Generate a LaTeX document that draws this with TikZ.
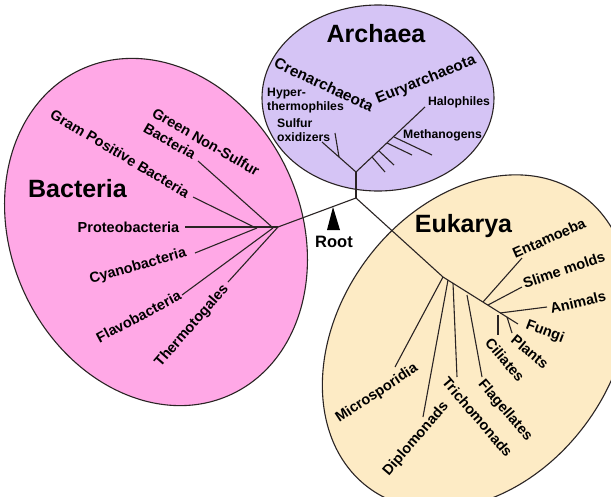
\documentclass[tikz,border=0pt]{standalone}
\usepackage{fontspec}
\setmainfont{Liberation Sans}
\definecolor{pinkfill}{HTML}{FFA8E6}
\definecolor{lavfill}{HTML}{D5C4F5}
\definecolor{yelfill}{HTML}{FDEBC5}
\definecolor{ink}{HTML}{2A2424}
\begin{document}
\begin{tikzpicture}[x=1pt,y=-1pt,
  group/.style={draw=ink, line width=1.1pt},
  br/.style={draw=ink, line width=1.1pt},
  lbl/.style={font=\fontsize{14.5}{17.4}\selectfont\bfseries, inner sep=0pt, text=black},
  sublbl/.style={font=\fontsize{12.2}{14.6}\selectfont\bfseries, inner sep=0pt, align=left, text=black},
  phylum/.style={font=\fontsize{15.3}{18}\selectfont\bfseries, inner sep=0pt, text=black},
  domainlbl/.style={font=\fontsize{25}{30}\selectfont\bfseries, inner sep=0pt, text=black},
]
\useasboundingbox (0,0) rectangle (611,496);
\clip (0,0) rectangle (611,496);
\fill[white] (0,0) rectangle (611,496);

% domain ellipses
\draw[group, fill=pinkfill, rotate around={24.6:(156,232)}] (156,232) ellipse [x radius=145pt, y radius=179pt];
\draw[group, fill=lavfill] (378,98) ellipse [x radius=116pt, y radius=93pt];
\draw[group, fill=yelfill, rotate around={54:(476,342)}] (476,342) ellipse [x radius=181pt, y radius=137pt];

% tree coordinates
\coordinate (C) at (356,198);
\coordinate (A0) at (356,172);
\coordinate (B0) at (278,227);
\coordinate (E1) at (443,277);
\coordinate (E2) at (518,324);

% bacteria
\coordinate (gnsb) at (272,227);  \coordinate (gnse) at (198,161);
\coordinate (gpbb) at (254,227);  \coordinate (gpbe) at (193,197);
\coordinate (proe) at (185,227);
\coordinate (cyab) at (257,228);  \coordinate (cyae) at (195,253);
\coordinate (flab) at (273,228);  \coordinate (flae) at (182,295);
\coordinate (thee) at (228,282);
\draw[br] (C) -- (B0);
\draw[br] (B0) -- (proe);
\draw[br] (gnsb) -- (gnse);
\draw[br] (gpbb) -- (gpbe);
\draw[br] (cyab) -- (cyae);
\draw[br] (flab) -- (flae);
\draw[br] (B0) -- (thee);

% archaea
\coordinate (crene) at (322,142);
\coordinate (crenb) at (339,157);
\coordinate (crens) at (335,133);
\coordinate (halo) at (425,107);
\coordinate (m1b) at (372,157); \coordinate (m1e) at (385,172);
\coordinate (m2b) at (379,151); \coordinate (m2e) at (394,165);
\coordinate (m3b) at (387,143); \coordinate (m3e) at (412,155);
\coordinate (m4b) at (394,137); \coordinate (m4e) at (432,155);
\draw[br] (C) -- (A0);
\draw[br] (A0) -- (crene);
\draw[br] (crenb) -- (crens);
\draw[br] (A0) -- (halo);
\draw[br] (m1b) -- (m1e);
\draw[br] (m2b) -- (m2e);
\draw[br] (m3b) -- (m3e);
\draw[br] (m4b) -- (m4e);

% eukarya
\coordinate (mice) at (395,367);
\coordinate (dipb) at (448,280); \coordinate (dipe) at (423,417);
\coordinate (trib) at (453,283); \coordinate (trie) at (457,377);
\coordinate (flgb) at (467,295); \coordinate (flge) at (482,377);
\coordinate (entb) at (483,302); \coordinate (ente) at (522,258);
\coordinate (slmb) at (488,305); \coordinate (slme) at (522,287);
\coordinate (anib) at (500,313); \coordinate (anie) at (547,307);
\coordinate (cilb) at (498,315); \coordinate (cile) at (498,335);
\coordinate (plab) at (507,317); \coordinate (plae) at (512,333);
\draw[br] (C) -- (E1) -- (E2);
\draw[br] (E1) -- (mice);
\draw[br] (dipb) -- (dipe);
\draw[br] (trib) -- (trie);
\draw[br] (flgb) -- (flge);
\draw[br] (entb) -- (ente);
\draw[br] (slmb) -- (slme);
\draw[br] (anib) -- (anie);
\draw[br] (cilb) -- (cile);
\draw[br] (plab) -- (plae);

% root marker
\fill[black] (333,207) -- (340,230) -- (327,230) -- cycle;
\node[font=\fontsize{16.5}{19}\selectfont\bfseries, inner sep=0pt] (root) at (334,241.5) {Root};

% domain titles
\node[domainlbl] (bact) at (77.5,188.5) {Bacteria};
\node[domainlbl] (arch) at (376,34) {Archaea};
\node[domainlbl] (euk) at (463.5,226) {Eukarya};

% bacteria labels
\node[lbl, align=left, rotate=-30] (gnsl) at (201.7,149.5) {Green Non-Sulfur\\Bacteria};
\node[lbl, rotate=-30.7] (gpbl) at (120,153.5) {Gram Positive Bacteria};
\node[lbl] (prol) at (128.5,227.5) {Proteobacteria};
\node[lbl, rotate=16] (cyal) at (138,266.5) {Cyanobacteria};
\node[lbl, rotate=28] (flal) at (138.5,316.5) {Flavobacteria};
\node[lbl, rotate=49] (thel) at (192,326) {Thermotogales};

% archaea labels
\node[phylum, rotate=-25] (crenl) at (324,84.5) {Crenarchaeota};
\node[phylum, rotate=22] (euryl) at (426,80) {Euryarchaeota};
\node[sublbl, anchor=west] (hyperl) at (267,100.5) {Hyper-\\thermophiles};
\node[sublbl, anchor=west] (sulfl) at (277,130) {Sulfur\\oxidizers};
\node[sublbl] (halol) at (459,102) {Halophiles};
\node[sublbl] (methl) at (442.5,135.5) {Methanogens};

% eukarya labels
\node[lbl, rotate=24] (entl) at (549,238) {Entamoeba};
\node[lbl, rotate=18.6] (slml) at (564,270) {Slime molds};
\node[lbl, rotate=13] (anil) at (578,302) {Animals};
\node[lbl, rotate=-20.6] (fungl) at (545,332) {Fungi};
\node[lbl, rotate=-40] (plal) at (530,352) {Plants};
\node[lbl, rotate=-49.6] (cill) at (505,360) {Ciliates};
\node[lbl, rotate=-49.4] (flgl) at (505,411) {Flagellates};
\node[lbl, rotate=-49.4] (tril) at (477.5,417) {Trichomonads};
\node[lbl, rotate=49.3] (dipl) at (416,439) {Diplomonads};
\node[lbl, rotate=33.5] (micl) at (377,393.5) {Microsporidia};
\end{tikzpicture}
\end{document}
